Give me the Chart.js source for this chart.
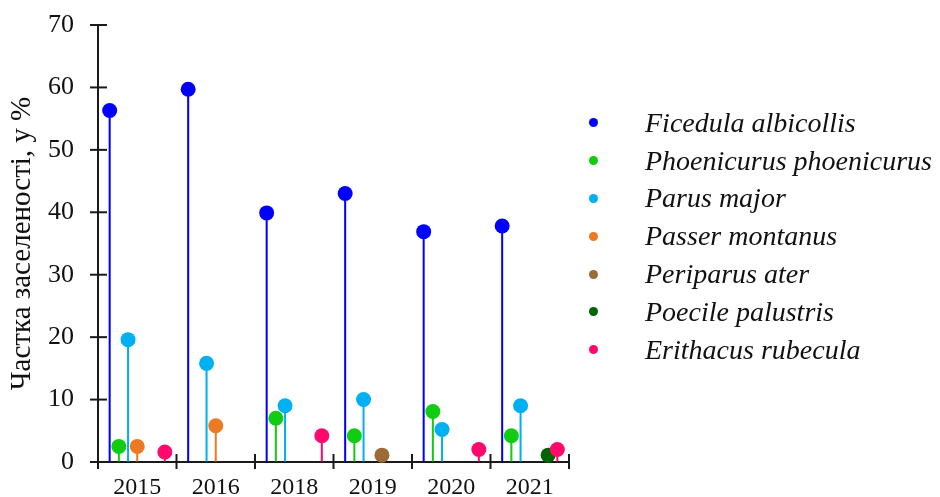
<!DOCTYPE html>
<html>
<head>
<meta charset="utf-8">
<script src="https://cdn.jsdelivr.net/npm/chart.js@4/dist/chart.umd.min.js"></script>
<style>
  html, body { margin: 0; padding: 0; background: #fff; }
  #wrap { position: relative; width: 940px; height: 497px; }
  #legend { position: absolute; left: 585px; top: 104px; font-family: "Liberation Serif", serif; font-style: italic; font-size: 28px; color: #111; }
  .row { height: 37.8px; display: flex; align-items: center; white-space: nowrap; }
  .dot { width: 9px; height: 9px; border-radius: 50%; margin-left: 4px; margin-right: 47px; }
</style>
</head>
<body>
<div id="wrap">
  <canvas id="c" width="940" height="497"></canvas>
  <div id="legend"></div>
</div>
<script>
const categories = ["2015", "2016", "2018", "2019", "2020", "2021"];
const seriesNames = ["Ficedula albicollis", "Phoenicurus phoenicurus", "Parus major", "Passer montanus", "Periparus ater", "Poecile palustris", "Erithacus rubecula"];
const seriesColors = ["#0000FF", "#11CC11", "#00B0F0", "#EC7A22", "#9C6B37", "#006400", "#FF0A6C"];
const ficedula   = [56.3, 59.7, 39.9, 43.0, 36.9, 37.8];
const phoenicurus = [2.5, null, 7.0, 4.2, 8.1, 4.2];
const parus      = [19.6, 15.8, 9.0, 10.0, 5.2, 9.0];
const passer     = [2.5, 5.8, null, null, null, null];
const periparus  = [null, null, null, 1.1, null, null];
const poecile    = [null, null, null, null, null, 1.1];
const erithacus  = [1.6, null, 4.2, null, 2.0, 2.0];
const yTicks = [0, 10, 20, 30, 40, 50, 60, 70];
const yTitle = "Частка заселеності, у %";

const seriesValues = [ficedula, phoenicurus, parus, passer, periparus, poecile, erithacus];

const lollipopPlugin = {
  id: 'lollipop',
  afterDatasetsDraw(chart) {
    const ctx = chart.ctx;
    chart.data.datasets.forEach((ds, i) => {
      const meta = chart.getDatasetMeta(i);
      meta.data.forEach((el, j) => {
        const v = ds.data[j];
        if (v == null || v <= 0) return;
        ctx.save();
        ctx.beginPath();
        ctx.arc(el.x, el.y, 7.5, 0, Math.PI * 2);
        ctx.fillStyle = ds.backgroundColor;
        ctx.fill();
        ctx.restore();
      });
    });
  }
};

const crossTicks = {
  id: 'crossTicks',
  afterDraw(chart) {
    const ctx = chart.ctx;
    const xs = chart.scales.x, ys = chart.scales.y;
    const x0 = chart.chartArea.left, y0 = ys.getPixelForValue(0);
    ctx.save();
    ctx.strokeStyle = '#1a1a1a';
    ctx.lineWidth = 2;
    ys.ticks.forEach(t => {
      const py = ys.getPixelForValue(t.value);
      ctx.beginPath(); ctx.moveTo(x0 - 8, py); ctx.lineTo(x0 + 9, py); ctx.stroke();
    });
    for (let i = 0; i <= categories.length; i++) {
      const px = xs.getPixelForValue(i - 0.5);
      ctx.beginPath(); ctx.moveTo(px, y0 - 8); ctx.lineTo(px, y0 + 7); ctx.stroke();
    }
    ctx.restore();
  }
};

new Chart(document.getElementById('c'), {
  type: 'bar',
  data: {
    labels: categories,
    datasets: seriesNames.map((n, i) => ({
      label: n,
      data: seriesValues[i],
      backgroundColor: seriesColors[i],
      borderWidth: 0,
      categoryPercentage: 0.82,
      barPercentage: 0.22
    }))
  },
  options: {
    responsive: false,
    animation: false,
    layout: { padding: { top: 25, right: 371, left: 0, bottom: 0 } },
    plugins: { legend: { display: false }, tooltip: { enabled: false } },
    scales: {
      x: {
        grid: { display: false, drawTicks: false },
        border: { display: true, color: '#1a1a1a', width: 2 },
        ticks: { color: '#111', font: { family: 'Liberation Serif', size: 24 }, padding: 11, maxRotation: 0 },
        afterFit(s) { s.height = 35; }
      },
      y: {
        min: 0, max: 70,
        grid: { display: true, drawOnChartArea: false, drawTicks: true, tickLength: 22, color: 'rgba(0,0,0,0)' },
        border: { display: true, color: '#1a1a1a', width: 2 },
        afterBuildTicks(s) { s.ticks = yTicks.map(v => ({ value: v })); },
        ticks: { color: '#111', font: { family: 'Liberation Serif', size: 26 }, padding: 2 },
        title: { display: true, text: yTitle, color: '#111', font: { family: 'Liberation Serif', size: 29 }, padding: { top: 5, bottom: 0 } },
        afterFit(s) { s.width = 98; }
      }
    }
  },
  plugins: [lollipopPlugin, crossTicks]
});

const lg = document.getElementById('legend');
seriesNames.forEach((n, i) => {
  const r = document.createElement('div');
  r.className = 'row';
  const d = document.createElement('span');
  d.className = 'dot';
  d.style.background = seriesColors[i];
  const t = document.createElement('span');
  t.textContent = n;
  r.appendChild(d); r.appendChild(t);
  lg.appendChild(r);
});
</script>
</body>
</html>
